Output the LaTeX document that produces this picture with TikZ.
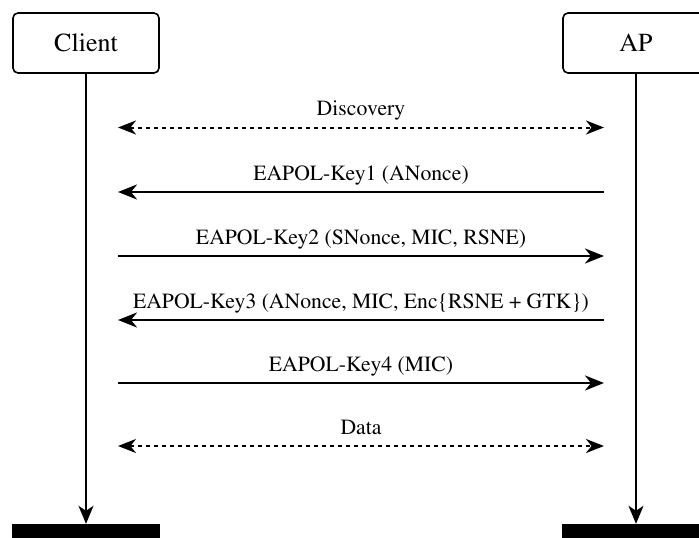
\documentclass[tikz,border=0pt]{standalone}
\usepackage[T1]{fontenc}
\usepackage{mathptmx}
\usetikzlibrary{arrows.meta,positioning}

\tikzset{
  party/.style={draw,rounded corners=5pt,line width=1.6pt,minimum width=146pt,
    minimum height=60pt,inner sep=0pt,font=\fontsize{26}{30}\selectfont},
  endbar/.style={fill=black,minimum width=148pt,minimum height=16pt,inner sep=0pt},
  lifeline/.style={line width=1.6pt,-{Stealth[length=18pt,width=15pt,inset=5pt]}},
  msg/.style={line width=2.6pt,-{Stealth[length=19pt,width=15pt,inset=6pt]}},
  both/.style={line width=2pt,dash pattern=on 4pt off 4pt,
    {Stealth[length=18pt,width=14pt,inset=5.5pt]}-{Stealth[length=18pt,width=14pt,inset=5.5pt]}},
  lbl/.style={font=\fontsize{21.7}{25}\selectfont,anchor=base,yshift=12pt}
}

\begin{document}
\begin{tikzpicture}[x=1pt,y=-1pt]
  \useasboundingbox (0,0) rectangle (699,538);
  \clip (0,0) rectangle (699,538);

  % the two parties and the bars closing their lifelines
  \node[party] (client) at (86,43) {Client};
  \node[party] (ap) at (636,43) {AP};
  \node[endbar] (clientend) at (86,532) {};
  \node[endbar] (apend) at (636,532) {};

  \draw[lifeline] (client.south) -- (clientend.north);
  \draw[lifeline] (ap.south) -- (apend.north);

  % message end points, 32pt off each lifeline
  \foreach \n/\y in {1/127.5,2/192,3/256,4/320,5/383,6/446} {
    \coordinate (c\n) at (118,\y);
    \coordinate (a\n) at (604,\y);
  }

  % the handshake
  \draw[both] (c1) -- node[lbl] {Discovery} (a1);
  \draw[msg] (a2) -- node[lbl] {EAPOL-Key1 (ANonce)} (c2);
  \draw[msg] (c3) -- node[lbl] {EAPOL-Key2 (SNonce, MIC, RSNE)} (a3);
  \draw[msg] (a4) -- node[lbl] {EAPOL-Key3 (ANonce, MIC, Enc\{RSNE + GTK\})} (c4);
  \draw[msg] (c5) -- node[lbl] {EAPOL-Key4 (MIC)} (a5);
  \draw[both] (c6) -- node[lbl] {Data} (a6);
\end{tikzpicture}
\end{document}
